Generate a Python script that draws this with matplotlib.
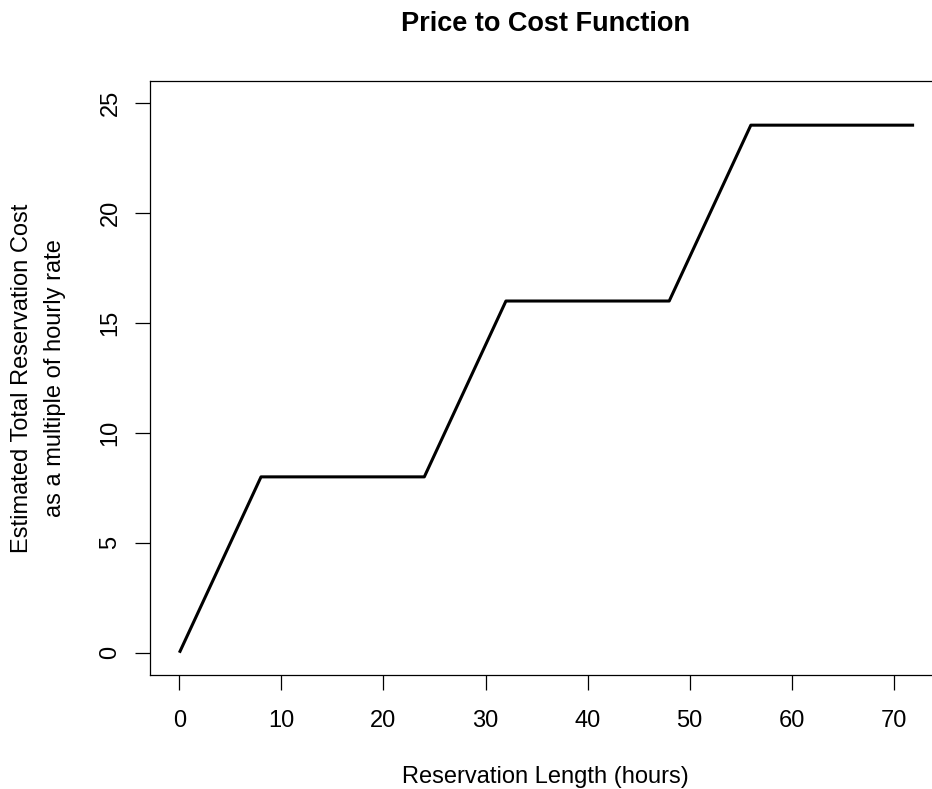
import matplotlib
matplotlib.use("Agg")
import matplotlib.pyplot as plt

hours = [0, 8, 24, 32, 48, 56, 72]
cost = [0, 8, 8, 16, 16, 24, 24]
xticks = [0, 10, 20, 30, 40, 50, 60, 70]
yticks = [0, 5, 10, 15, 20, 25]

plt.rcParams['font.family'] = ['Liberation Sans', 'DejaVu Sans']
W, H = 932, 789
fig = plt.figure(figsize=(W/100, H/100), dpi=100)
left, right, top, bottom = 150, 943.5, 81.2, 674.7
ax = fig.add_axes([left/W, 1 - bottom/H, (right-left)/W, (bottom-top)/H])
ax.plot(hours, cost, color='black', lw=2.2, solid_capstyle='butt', clip_on=False)
ax.set_xlim(-2.88, 74.88)
ax.set_ylim(-1, 26)
ax.set_xticks(xticks)
ax.set_yticks(yticks)
ax.set_yticklabels([str(t) for t in yticks], rotation=90, va='center')
ax.spines['right'].set_visible(False)
for s in ax.spines.values():
    s.set_linewidth(0.9)
ax.tick_params(direction='out', length=10.5, width=0.9, labelsize=17)
ax.tick_params(axis='x', pad=15)
ax.tick_params(axis='y', pad=10)
fig.text(545.5/W, 1 - 777/H, 'Reservation Length (hours)', ha='center', va='center', fontsize=17)
cy = 1 - 378/H
fig.text(22.5/W, cy, 'Estimated Total Reservation Cost', ha='center', va='center', rotation=90, fontsize=17)
fig.text(55/W, cy, 'as a multiple of hourly rate', ha='center', va='center', rotation=90, fontsize=17)
fig.text(545.5/W, 1 - 24/H, 'Price to Cost Function', ha='center', va='center', fontsize=19.5, fontweight='bold')
fig.savefig('out.png', dpi=100)
